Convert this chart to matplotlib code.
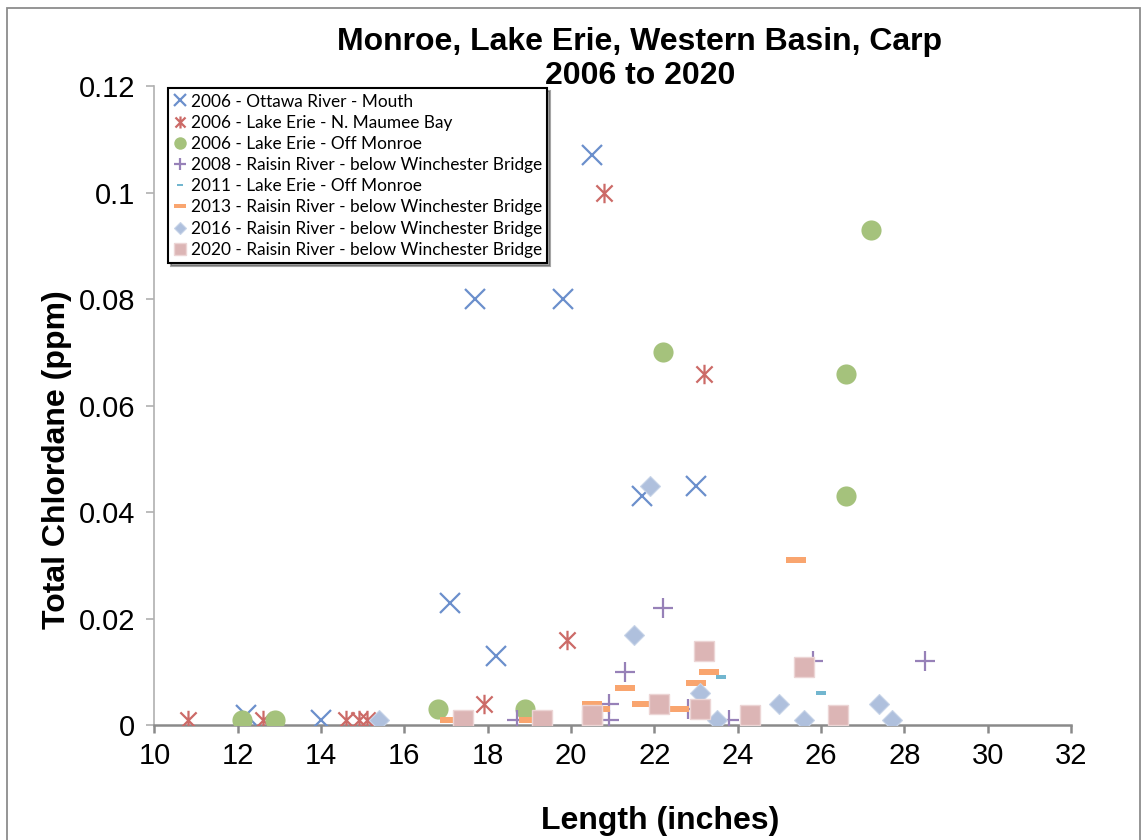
import matplotlib
matplotlib.use("Agg")
import matplotlib.pyplot as plt
from matplotlib.path import Path
from matplotlib.patches import Rectangle

plt.rcParams['font.family'] = ['Liberation Sans', 'DejaVu Sans']

title = "Monroe, Lake Erie, Western Basin, Carp\n2006 to 2020"
xlabel = "Length (inches)"
ylabel = "Total Chlordane (ppm)"

labels = [
    "2006 - Ottawa River - Mouth",
    "2006 - Lake Erie - N. Maumee Bay",
    "2006 - Lake Erie - Off Monroe",
    "2008 - Raisin River - below Winchester Bridge",
    "2011 - Lake Erie - Off Monroe",
    "2013 - Raisin River - below Winchester Bridge",
    "2016 - Raisin River - below Winchester Bridge",
    "2020 - Raisin River - below Winchester Bridge",
]

ottawa_x = [20.5, 17.7, 19.8, 21.7, 23.0, 17.1, 18.2, 12.2, 14.0]
ottawa_y = [0.107, 0.080, 0.080, 0.043, 0.045, 0.023, 0.013, 0.002, 0.001]

maumee_x = [20.8, 23.2, 19.9, 17.9, 10.8, 12.6, 14.6, 14.9, 15.1]
maumee_y = [0.100, 0.066, 0.016, 0.004, 0.001, 0.001, 0.001, 0.001, 0.001]

monroe06_x = [12.1, 12.9, 16.8, 18.9, 22.2, 26.6, 26.6, 27.2]
monroe06_y = [0.001, 0.001, 0.003, 0.003, 0.070, 0.066, 0.043, 0.093]

raisin08_x = [22.2, 21.3, 20.9, 20.9, 18.7, 22.8, 23.8, 25.8, 28.5]
raisin08_y = [0.022, 0.010, 0.004, 0.001, 0.001, 0.003, 0.001, 0.012, 0.012]

monroe11_x = [23.6, 26.0]
monroe11_y = [0.009, 0.006]

raisin13_x = [25.4, 21.3, 23.3, 23.0, 21.7, 22.6, 20.5, 20.7, 19.0, 17.1]
raisin13_y = [0.031, 0.007, 0.010, 0.008, 0.004, 0.003, 0.004, 0.003, 0.001, 0.001]

raisin16_x = [21.9, 21.5, 23.1, 23.5, 25.0, 25.6, 27.4, 27.7, 15.4]
raisin16_y = [0.045, 0.017, 0.006, 0.001, 0.004, 0.001, 0.004, 0.001, 0.001]

raisin20_x = [17.4, 19.3, 20.5, 20.5, 22.1, 23.2, 23.1, 24.3, 25.6, 26.4]
raisin20_y = [0.001, 0.001, 0.001, 0.002, 0.004, 0.014, 0.003, 0.002, 0.011, 0.002]

xticks = [10, 12, 14, 16, 18, 20, 22, 24, 26, 28, 30, 32]
yticks = [0, 0.02, 0.04, 0.06, 0.08, 0.1, 0.12]
yticklabels = ["0", "0.02", "0.04", "0.06", "0.08", "0.1", "0.12"]

# custom marker paths
star = Path([(-1, -1), (1, 1), (-1, 1), (1, -1), (0, -1.2), (0, 1.2)],
            [Path.MOVETO, Path.LINETO, Path.MOVETO, Path.LINETO, Path.MOVETO, Path.LINETO])
dash_long = Path([(-1, -0.28), (1, -0.28), (1, 0.28), (-1, 0.28), (-1, -0.28)],
                 [Path.MOVETO, Path.LINETO, Path.LINETO, Path.LINETO, Path.CLOSEPOLY])
dash_short = Path([(-1, -0.45), (1, -0.45), (1, 0.45), (-1, 0.45), (-1, -0.45)],
                  [Path.MOVETO, Path.LINETO, Path.LINETO, Path.LINETO, Path.CLOSEPOLY])

fig = plt.figure(figsize=(11.45, 8.4), dpi=100)
ax = fig.add_axes([154.4 / 1145, 1 - 725.3 / 840, (1071 - 154.4) / 1145, (725.3 - 86) / 840])

# outer chart border
fig.patches.append(Rectangle((7 / 1145, -0.05), (1140 - 7) / 1145, 1.05 - 8 / 840,
                             transform=fig.transFigure, fill=False, edgecolor='#8c8c8c',
                             linewidth=1.3, zorder=0))

ax.plot(ottawa_x, ottawa_y, linestyle='none', marker='x', ms=14, mew=1.6,
        color='#6b8fcc', label=labels[0], zorder=3)
ax.plot(maumee_x, maumee_y, linestyle='none', marker=star, ms=14, mew=1.6,
        color='#cc6a67', label=labels[1], zorder=3)
ax.plot(monroe06_x, monroe06_y, linestyle='none', marker='o', ms=14.5, mew=0,
        color='#a5c27c', label=labels[2], zorder=3)
ax.plot(raisin08_x, raisin08_y, linestyle='none', marker='+', ms=14.5, mew=1.6,
        color='#9781b8', label=labels[3], zorder=3)
ax.plot(monroe11_x, monroe11_y, linestyle='none', marker=dash_short, ms=7.5, mew=0,
        color='#72b6cf', label=labels[4], zorder=3)
ax.plot(raisin13_x, raisin13_y, linestyle='none', marker=dash_long, ms=14.5, mew=0,
        color='#f9a56f', label=labels[5], zorder=3)
ax.plot(raisin16_x, raisin16_y, linestyle='none', marker='D', ms=10.5, mew=0.8,
        mec='#c8d4e8', color='#afc0dd', label=labels[6], zorder=3)
ax.plot(raisin20_x, raisin20_y, linestyle='none', marker='s', ms=14.5, mew=1.0,
        mec='#ecd5d5', color='#dcb5b5', label=labels[7], zorder=3)

ax.set_xlim(10, 32)
ax.set_ylim(0, 0.12)
ax.set_xticks(xticks)
ax.set_xticklabels([str(t) for t in xticks])
ax.set_yticks(yticks)
ax.set_yticklabels(yticklabels)

for s in ['top', 'right']:
    ax.spines[s].set_visible(False)
ax.spines['bottom'].set_color('#8a8a8a')
ax.spines['bottom'].set_linewidth(1.8)
ax.spines['left'].set_color('#b0b0b0')
ax.spines['left'].set_linewidth(1.2)
ax.tick_params(axis='x', direction='out', length=6, width=1.8, color='#8a8a8a',
               labelsize=21, pad=6)
ax.tick_params(axis='y', direction='out', length=6, width=1.2, color='#b0b0b0',
               labelsize=21, pad=8)

fig.text(640 / 1145, 1 - 59 / 840, title, ha='center', va='center', fontsize=23,
         fontweight='bold', linespacing=1.15)
fig.text(660 / 1145, 1 - 821 / 840, xlabel, ha='center', va='center', fontsize=23,
         fontweight='bold')
fig.text(57 / 1145, 1 - 460 / 840, ylabel, ha='center', va='center', fontsize=23,
         fontweight='bold', rotation=90)

leg = ax.legend(loc='upper left', bbox_to_anchor=((168 - 154.4) / 916.6, (725.3 - 88) / 639.3),
                borderaxespad=0, frameon=True, fancybox=False, shadow=True,
                prop={'family': ['Lato', 'DejaVu Sans'], 'size': 12.45},
                handlelength=0.7, handletextpad=0.3, labelspacing=0.3,
                borderpad=0.32, markerscale=0.62, framealpha=1)
leg.get_frame().set_edgecolor('black')
leg.get_frame().set_linewidth(1.5)

fig.savefig('out.png', dpi=100)
